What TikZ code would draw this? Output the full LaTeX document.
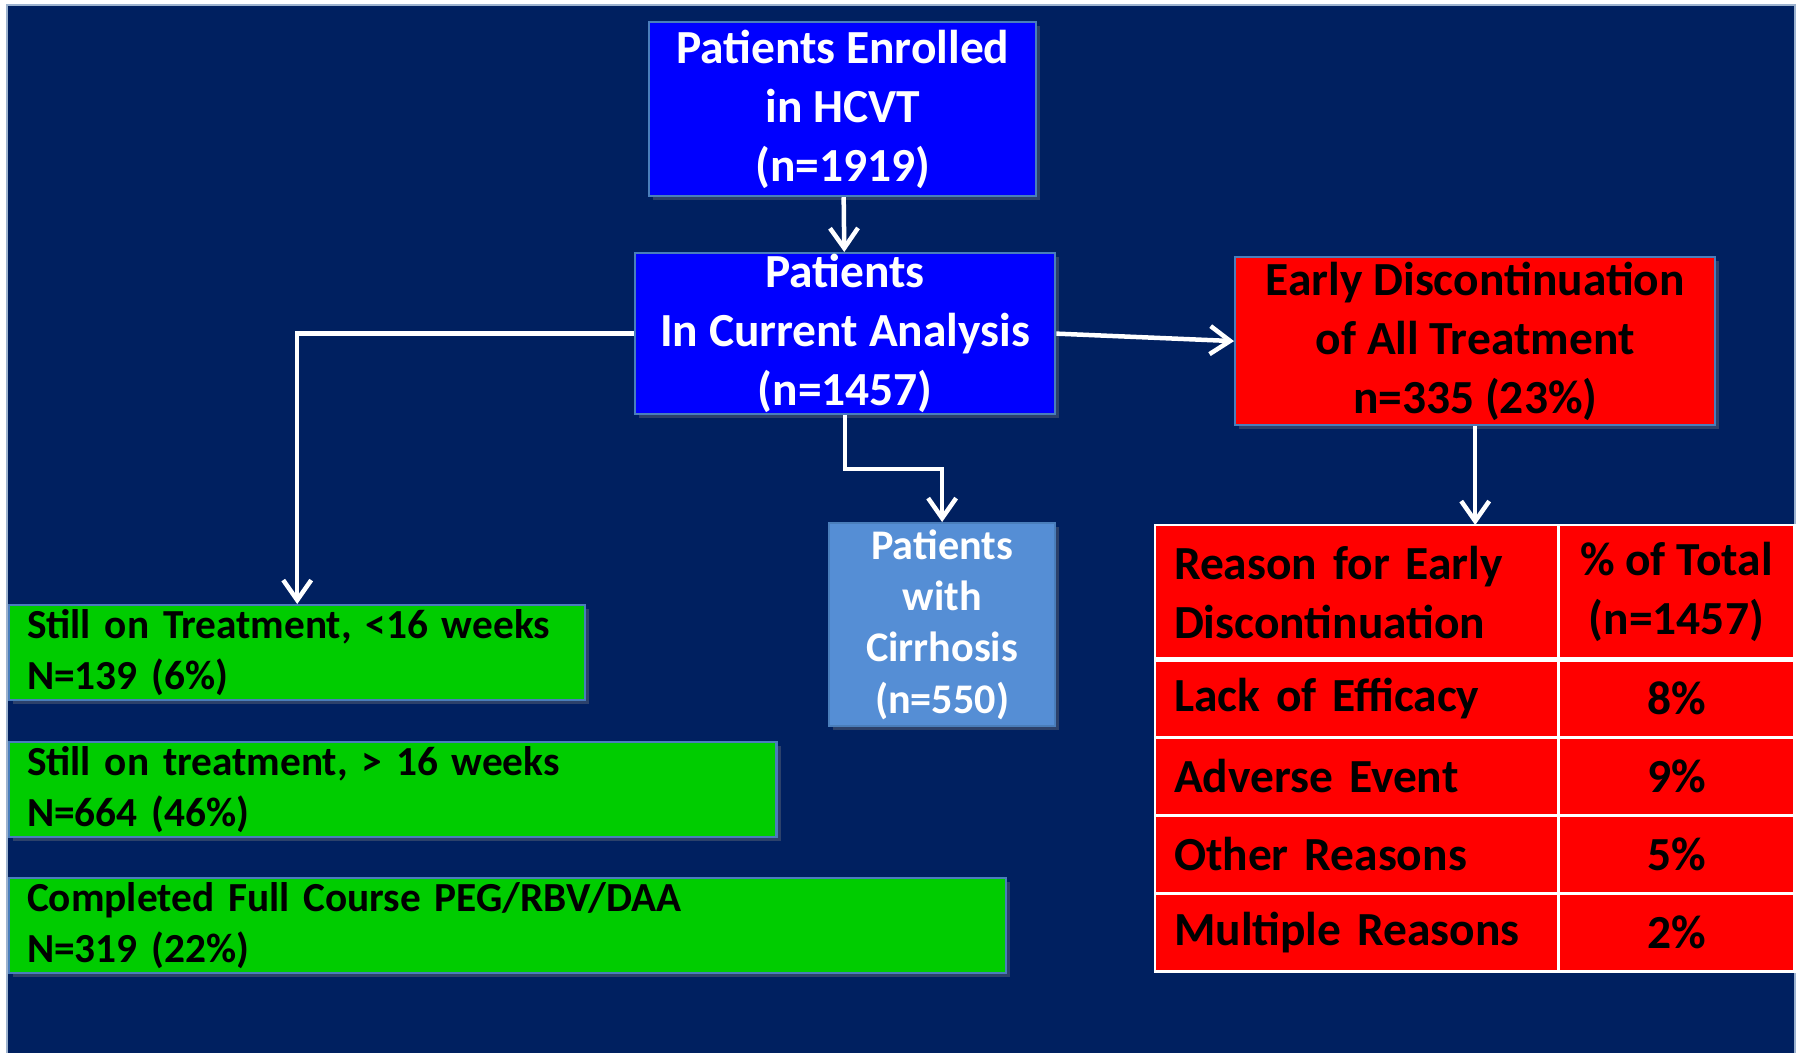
\documentclass[tikz,border=0pt]{standalone}
\usepackage{fontspec}
\setmainfont{Carlito}
\usetikzlibrary{arrows.meta,positioning,shadows}
\definecolor{navy}{HTML}{002060}
\definecolor{framegray}{HTML}{9DB3CF}
\definecolor{boxblue}{HTML}{0000FF}
\definecolor{boxedge}{HTML}{4A7EBB}
\definecolor{cirrblue}{HTML}{558ED5}
\definecolor{boxgreen}{HTML}{00CC00}
\definecolor{boxred}{HTML}{FF0000}
\newcommand{\bigtxt}{\fontsize{13.5}{16.8}\selectfont\bfseries}
\newcommand{\smalltxt}{\fontsize{12}{14.6}\selectfont\bfseries}
\newcommand{\greentxt}{\fontsize{11.75}{14.6}\selectfont\bfseries}
\begin{document}
\begin{tikzpicture}[x=0.01cm,y=-0.01cm,
    flowbox/.style={draw=boxedge,line width=0.6pt,inner sep=0pt,align=center,anchor=north west,
      drop shadow={opacity=0.35,shadow xshift=0.04cm,shadow yshift=-0.04cm}},
    bluebox/.style={flowbox,fill=boxblue,text=white,font=\bigtxt},
    redbox/.style={flowbox,fill=boxred,text=black,font=\bigtxt},
    cirrbox/.style={flowbox,fill=cirrblue,text=white,font=\smalltxt},
    greenbox/.style={flowbox,fill=boxgreen,text=black,font=\greentxt,align=left,inner xsep=0.18cm,minimum height=0.95cm},
    reasoncell/.style={draw=white,line width=0.8pt,outer sep=0pt,fill=boxred,text=black,font=\bigtxt,align=left,
      inner xsep=0.19cm,inner ysep=0pt,text width=3.65cm,minimum height=0.78cm},
    pctcell/.style={draw=white,line width=0.8pt,outer sep=0pt,fill=boxred,text=black,font=\bigtxt,align=center,
      inner sep=0pt,minimum width=2.36cm,minimum height=0.78cm},
    flowarrow/.style={draw=white,line width=0.045cm,-{Straight Barb[length=0.2cm,width=0.28cm,line width=0.045cm]}}]
  \useasboundingbox (0,0) rectangle (1798,1053);
  % background slide
  \fill[white] (0,0) rectangle (1798,1053);
  \fill[navy] (7,5) rectangle (1795,1053);
  \draw[framegray,line width=0.6pt] (7,1053) -- (7,5) -- (1795,5) -- (1795,1053);
  % flow boxes
  \node[bluebox,minimum width=3.87cm,minimum height=1.74cm] (enrolled) at (648,21) {Patients Enrolled\\in HCVT\\(n=1919)};
  \node[bluebox,minimum width=4.20cm,minimum height=1.61cm] (analysis) at (634,252) {Patients\\In Current Analysis\\(n=1457)};
  \node[redbox,minimum width=4.80cm,minimum height=1.68cm] (earlydisc) at (1234,256) {Early Discontinuation\\of All Treatment\\n=335 (23\%)};
  \node[cirrbox,minimum width=2.26cm,minimum height=2.03cm] (cirrhosis) at (828,522) {Patients\\with\\Cirrhosis\\(n=550)};
  \node[greenbox,text width=5.40cm] (shortrx) at (8,604) {Still on Treatment, <16 weeks\\N=139 (6\%)};
  \node[greenbox,text width=7.31cm] (longrx) at (8,741) {Still on treatment, > 16 weeks\\N=664 (46\%)};
  \node[greenbox,text width=9.60cm] (completed) at (8,877) {Completed Full Course PEG/RBV/DAA\\N=319 (22\%)};
  % reasons table
  \node[reasoncell,minimum height=1.34cm,anchor=north west] (hdrreason) at (1155,525) {Reason for Early\\Discontinuation};
  \node[pctcell,minimum height=1.34cm,right=0pt of hdrreason] (hdrpct) {\% of Total\\(n=1457)};
  \node[reasoncell,below=0pt of hdrreason] (lack) {Lack of Efficacy};
  \node[pctcell,right=0pt of lack] (lackpct) {8\%};
  \node[reasoncell,below=0pt of lack] (adverse) {Adverse Event};
  \node[pctcell,right=0pt of adverse] (adversepct) {9\%};
  \node[reasoncell,below=0pt of adverse] (other) {Other Reasons};
  \node[pctcell,right=0pt of other] (otherpct) {5\%};
  \node[reasoncell,below=0pt of other] (multiple) {Multiple Reasons};
  \node[pctcell,right=0pt of multiple] (multiplepct) {2\%};
  \draw[white,line width=0.05cm] (hdrreason.south west) -- (hdrpct.south east);
  % connectors
  \draw[flowarrow] (enrolled) -- (analysis);
  \draw[flowarrow] (analysis.west) -| (shortrx.north);
  \draw[flowarrow] (analysis.east) -- (earlydisc.west);
  \draw[flowarrow] (analysis.south) -- ++(0,54) -| (cirrhosis.north);
  \draw[flowarrow] (earlydisc.south) -- (earlydisc.south |- hdrreason.north);
\end{tikzpicture}
\end{document}
